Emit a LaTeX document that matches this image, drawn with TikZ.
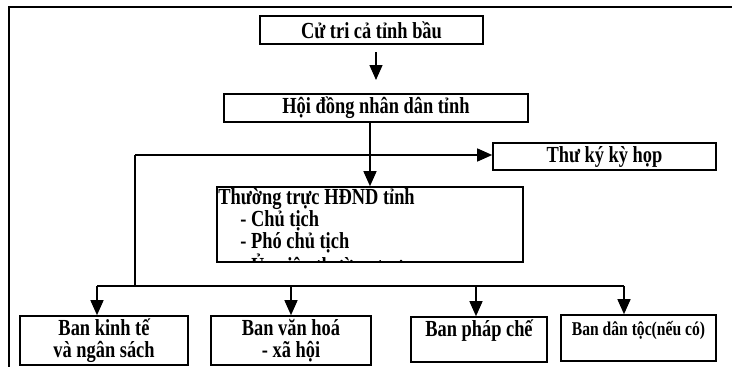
\documentclass[tikz,border=0pt]{standalone}
\usepackage{fontspec}
\setmainfont[FakeStretch=0.8]{Liberation Serif}
\usetikzlibrary{arrows.meta}

\begin{document}
\begin{tikzpicture}[x=1pt, y=-1pt,
  box/.style={draw, line width=1.6pt, inner sep=0pt, align=center, font=\fontsize{23}{22}\selectfont\bfseries},
  arr/.style={line width=1.4pt, -{Triangle[length=15pt,width=13pt]}}]
\useasboundingbox (0,0) rectangle (732,367);
\draw[line width=2.2pt] (9,367) -- (9,7) -- (732,7);

\node[box, minimum width=223pt, minimum height=28pt] (cutri) at (371.5,30) {Cử tri cả tỉnh bầu};
\node[box, minimum width=304pt, minimum height=28pt] (hoidong) at (376,108) {Hội đồng nhân dân tỉnh};
\node[box, minimum width=223pt, minimum height=27pt] (thuky) at (604.5,156.5) {Thư ký kỳ họp};
\node[box, minimum width=306pt, minimum height=75pt] (thuongtruc) at (370,224.5) {};

\begin{scope}
\clip (thuongtruc.north west) rectangle (thuongtruc.south east);
\node[anchor=north west, align=left, inner sep=2pt, font=\fontsize{23}{22}\selectfont\bfseries] (ttlist) at (thuongtruc.north west)
  {Thường trực HĐND tỉnh\\ \hspace*{22pt}- Chủ tịch\\ \hspace*{22pt}- Phó chủ tịch\\ \hspace*{22pt}- Ủy viên thường trực};
\end{scope}

\node[box, minimum width=168pt, minimum height=49pt] (kinhte) at (104,340.5) {Ban kinh tế\\ và ngân sách};
\node[box, minimum width=160pt, minimum height=49pt] (vanhoa) at (291,340.5) {Ban văn hoá\\ - xã hội};
\node[box, minimum width=136pt, minimum height=45pt] (phapche) at (479,339.5) {Ban pháp chế\\ \mbox{}};
\node[box, minimum width=155pt, minimum height=46pt, font=\fontsize{19.5}{20}\selectfont\bfseries] (dantoc) at (638.5,338) {Ban dân tộc(nếu có)\\ \mbox{}};

\coordinate (a1) at (376,52);
\coordinate (a2) at (376,80);
\coordinate (branch) at (135,155);
\coordinate (corner) at (135,286);
\coordinate (busL) at (97,286);
\coordinate (busR) at (624,286);

\draw[arr] (a1) -- (a2);
\draw[arr] (hoidong.south -| thuongtruc.north) -- (thuongtruc.north);
\draw[arr] (branch) -- (branch -| thuky.west);
\draw[line width=1.4pt] (branch) -- (corner);
\draw[line width=1.4pt] (busL) -- (busR);

\foreach \x/\n in {97/kinhte, 291/vanhoa, 476/phapche, 624/dantoc}{
  \coordinate (t\n) at (\x,286);
  \draw[arr] (t\n) -- (t\n |- \n.north);
}
\end{tikzpicture}
\end{document}
